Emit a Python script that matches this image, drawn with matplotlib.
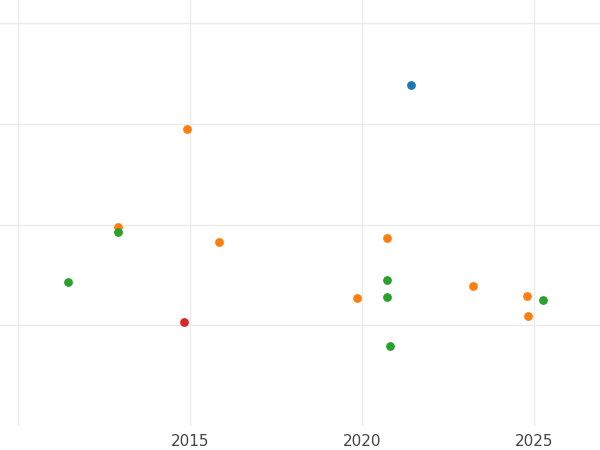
import matplotlib
matplotlib.use("Agg")
import matplotlib.pyplot as plt

blue_x = [2021.42]; blue_y = [3.39]
orange_x = [2014.91, 2012.91, 2015.84, 2020.73, 2019.85, 2023.23, 2024.80, 2024.83]
orange_y = [2.95, 1.98, 1.83, 1.87, 1.27, 1.39, 1.29, 1.09]
green_x = [2011.45, 2012.91, 2020.73, 2020.73, 2020.81, 2025.26]
green_y = [1.43, 1.93, 1.45, 1.28, 0.79, 1.25]
red_x = [2014.83]; red_y = [1.03]
xticks = [2015, 2020, 2025]

fig = plt.figure(figsize=(6, 4.5), dpi=100)
ax = fig.add_axes([0, 24/450, 1, 426/450])
for xs, ys, c in [(blue_x, blue_y, "#1f77b4"), (orange_x, orange_y, "#ff7f0e"),
                  (green_x, green_y, "#2ca02c"), (red_x, red_y, "#d62728")]:
    ax.scatter(xs, ys, s=40, color=c, zorder=3, linewidths=0)
ax.set_xlim(2009.48, 2026.92)
ax.set_ylim(0, 4.23)
ax.set_xticks([2010] + xticks, [""] + [str(t) for t in xticks])
ax.set_yticks([1, 2, 3, 4], [])
ax.grid(True, color="#ebebeb", linewidth=1.0)
ax.set_axisbelow(True)
for s in ax.spines.values():
    s.set_visible(False)
ax.tick_params(length=0, labelsize=11, labelcolor="#444444", pad=6)
fig.savefig("out.png")
